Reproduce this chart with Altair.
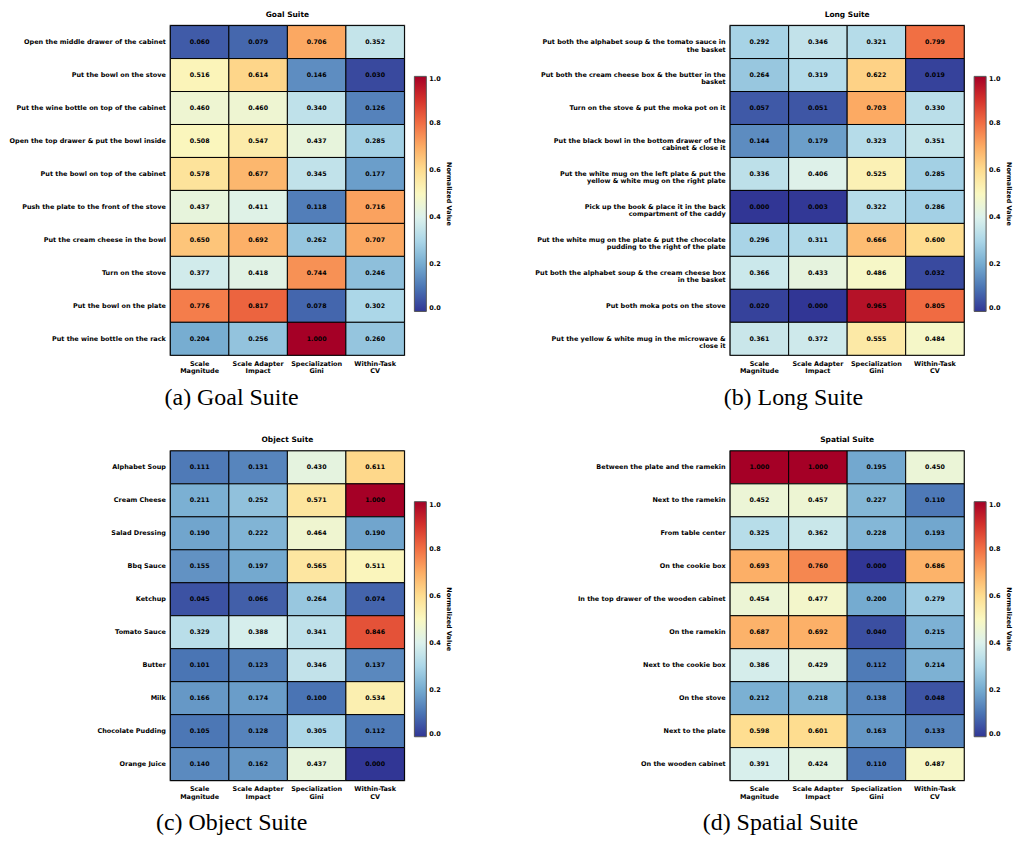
import altair as alt
import pandas as pd

metrics = ["Scale\nMagnitude", "Scale Adapter\nImpact", "Specialization\nGini", "Within-Task\nCV"]

goal_tasks = [
    "Open the middle drawer of the cabinet",
    "Put the bowl on the stove",
    "Put the wine bottle on top of the cabinet",
    "Open the top drawer & put the bowl inside",
    "Put the bowl on top of the cabinet",
    "Push the plate to the front of the stove",
    "Put the cream cheese in the bowl",
    "Turn on the stove",
    "Put the bowl on the plate",
    "Put the wine bottle on the rack",
]
goal_scale = [0.060, 0.516, 0.460, 0.508, 0.578, 0.437, 0.650, 0.377, 0.776, 0.204]
goal_adapter = [0.079, 0.614, 0.460, 0.547, 0.677, 0.411, 0.692, 0.418, 0.817, 0.256]
goal_gini = [0.706, 0.146, 0.340, 0.437, 0.345, 0.118, 0.262, 0.744, 0.078, 1.000]
goal_cv = [0.352, 0.030, 0.126, 0.285, 0.177, 0.716, 0.707, 0.246, 0.302, 0.260]

long_tasks = [
    "Put both the alphabet soup & the tomato sauce in\nthe basket",
    "Put both the cream cheese box & the butter in the\nbasket",
    "Turn on the stove & put the moka pot on it",
    "Put the black bowl in the bottom drawer of the\ncabinet & close it",
    "Put the white mug on the left plate & put the\nyellow & white mug on the right plate",
    "Pick up the book & place it in the back\ncompartment of the caddy",
    "Put the white mug on the plate & put the chocolate\npudding to the right of the plate",
    "Put both the alphabet soup & the cream cheese box\nin the basket",
    "Put both moka pots on the stove",
    "Put the yellow & white mug in the microwave &\nclose it",
]
long_scale = [0.292, 0.264, 0.057, 0.144, 0.336, 0.000, 0.296, 0.366, 0.020, 0.361]
long_adapter = [0.346, 0.319, 0.051, 0.179, 0.406, 0.003, 0.311, 0.433, 0.000, 0.372]
long_gini = [0.321, 0.622, 0.703, 0.323, 0.525, 0.322, 0.666, 0.486, 0.965, 0.555]
long_cv = [0.799, 0.019, 0.330, 0.351, 0.285, 0.286, 0.600, 0.032, 0.805, 0.484]

object_tasks = [
    "Alphabet Soup", "Cream Cheese", "Salad Dressing", "Bbq Sauce", "Ketchup",
    "Tomato Sauce", "Butter", "Milk", "Chocolate Pudding", "Orange Juice",
]
object_scale = [0.111, 0.211, 0.190, 0.155, 0.045, 0.329, 0.101, 0.166, 0.105, 0.140]
object_adapter = [0.131, 0.252, 0.222, 0.197, 0.066, 0.388, 0.123, 0.174, 0.128, 0.162]
object_gini = [0.430, 0.571, 0.464, 0.565, 0.264, 0.341, 0.346, 0.100, 0.305, 0.437]
object_cv = [0.611, 1.000, 0.190, 0.511, 0.074, 0.846, 0.137, 0.534, 0.112, 0.000]

spatial_tasks = [
    "Between the plate and the ramekin",
    "Next to the ramekin",
    "From table center",
    "On the cookie box",
    "In the top drawer of the wooden cabinet",
    "On the ramekin",
    "Next to the cookie box",
    "On the stove",
    "Next to the plate",
    "On the wooden cabinet",
]
spatial_scale = [1.000, 0.452, 0.325, 0.693, 0.454, 0.687, 0.386, 0.212, 0.598, 0.391]
spatial_adapter = [1.000, 0.457, 0.362, 0.760, 0.477, 0.692, 0.429, 0.218, 0.601, 0.424]
spatial_gini = [0.195, 0.227, 0.228, 0.000, 0.200, 0.040, 0.112, 0.138, 0.163, 0.110]
spatial_cv = [0.450, 0.110, 0.193, 0.686, 0.279, 0.215, 0.214, 0.048, 0.133, 0.487]

FONT = "DejaVu Sans"
W, H = 235, 331


def panel(title, caption, tasks, cols, cap_x, cap_y):
    rows = []
    for i, t in enumerate(tasks):
        for m, vals in zip(metrics, cols):
            rows.append({"task": t, "metric": m, "value": vals[i]})
    df = pd.DataFrame(rows)
    base = alt.Chart(df)
    rect = base.mark_rect(stroke="black", strokeWidth=1).encode(
        x=alt.X("metric:N", sort=metrics,
                axis=alt.Axis(orient="bottom", labelAngle=0, ticks=False, domain=False,
                              labelExpr="split(datum.label, '\\n')",
                              labelFont=FONT, labelFontWeight="bold", labelFontSize=6.5,
                              labelLineHeight=7.5, labelPadding=5, labelColor="black",
                              labelAlign="center", labelBaseline="top",
                              title=caption, titleFont="Liberation Serif",
                              titleFontSize=24, titleFontWeight="normal", titleColor="black",
                              titleX=cap_x, titleY=cap_y, titleAlign="center",
                              titleBaseline="middle", titleAnchor="start")),
        y=alt.Y("task:N", sort=tasks,
                axis=alt.Axis(ticks=False, domain=False, title=None,
                              labelExpr="split(datum.label, '\\n')",
                              labelFont=FONT, labelFontWeight="bold", labelFontSize=6.5,
                              labelLineHeight=7.5, labelPadding=5, labelLimit=400,
                              labelColor="black", labelAlign="right", labelBaseline="middle")),
        color=alt.Color("value:Q",
                        scale=alt.Scale(scheme="redyellowblue", reverse=True, domain=[0, 1]),
                        legend=alt.Legend(orient="none", legendX=W + 10, legendY=51,
                                          direction="vertical", gradientLength=236,
                                          gradientThickness=12, gradientStrokeColor="#555",
                                          gradientStrokeWidth=1,
                                          values=[0, 0.2, 0.4, 0.6, 0.8, 1.0], format=".1f",
                                          labelFont=FONT, labelFontWeight="bold",
                                          labelFontSize=6.5, labelColor="black", labelOffset=3,
                                          title="Normalized Value", titleOrient="right",
                                          titleFont=FONT, titleFontWeight="bold",
                                          titleFontSize=6.5, titleColor="black",
                                          titleAnchor="middle", titlePadding=5)),
    )
    text = base.mark_text(font=FONT, fontWeight="bold", fontSize=6.3, color="black").encode(
        x=alt.X("metric:N", sort=metrics),
        y=alt.Y("task:N", sort=tasks),
        text=alt.Text("value:Q", format=".3f"),
    )
    return (rect + text).properties(
        width=W, height=H,
        title=alt.TitleParams(title, font=FONT, fontWeight="bold", fontSize=7.5,
                              color="black", anchor="middle", offset=7, frame="group"),
    )


a = panel("Goal Suite", "(a) Goal Suite", goal_tasks,
          [goal_scale, goal_adapter, goal_gini, goal_cv], 61, 42)
b = panel("Long Suite", "(b) Long Suite", long_tasks,
          [long_scale, long_adapter, long_gini, long_cv], 63, 42)
c = panel("Object Suite", "(c) Object Suite", object_tasks,
          [object_scale, object_adapter, object_gini, object_cv], 61, 42)
d = panel("Spatial Suite", "(d) Spatial Suite", spatial_tasks,
          [spatial_scale, spatial_adapter, spatial_gini, spatial_cv], 50, 42)

chart = alt.concat(a, b, c, d, columns=2, spacing={"row": 96, "column": 327}, bounds="flush").resolve_scale(
    color="independent"
).properties(
    padding={"left": 0, "top": 0, "right": 0, "bottom": 0}, background="white"
).configure_view(stroke="#555", strokeWidth=1.5)

chart.save("out.html", embed_options={"renderer": "svg", "actions": False})
